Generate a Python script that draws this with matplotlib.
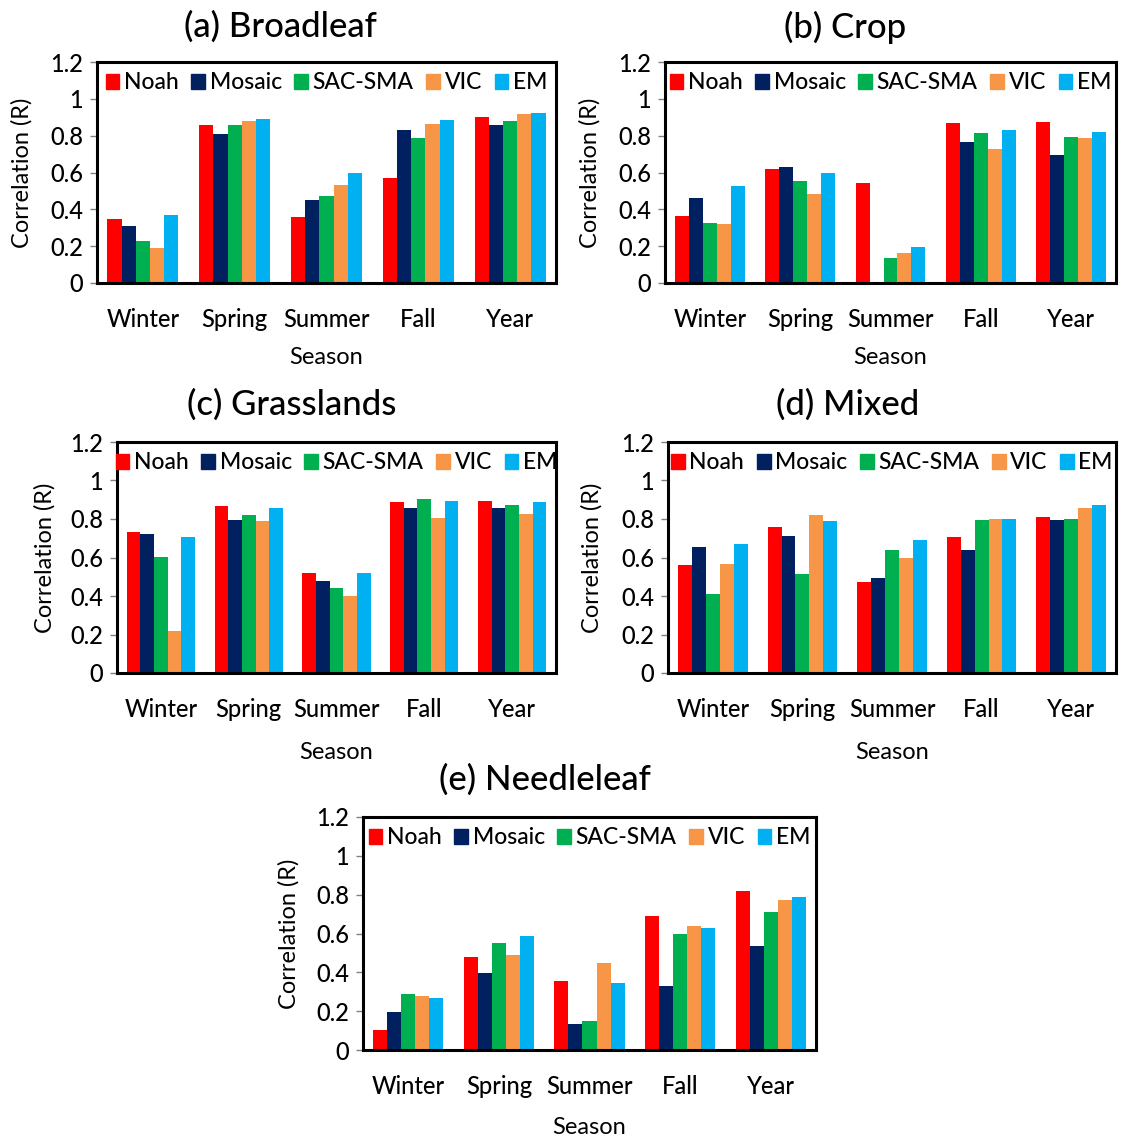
import numpy as np
import matplotlib
matplotlib.use("Agg")
import matplotlib.pyplot as plt
from matplotlib.patches import Patch

plt.rcParams['font.family'] = ['Lato', 'DejaVu Sans']
plt.rcParams['font.weight'] = 'medium'

SEASONS = ["Winter", "Spring", "Summer", "Fall", "Year"]
MODELS = ["Noah", "Mosaic", "SAC-SMA", "VIC", "EM"]
COLORS = ["#FF0000", "#002060", "#00B050", "#F79646", "#00B0F0"]

# correlation per model (rows) and season (columns)
BROADLEAF = [[0.35, 0.86, 0.36, 0.57, 0.90],
             [0.31, 0.81, 0.45, 0.83, 0.86],
             [0.23, 0.86, 0.475, 0.79, 0.88],
             [0.19, 0.88, 0.53, 0.865, 0.915],
             [0.37, 0.89, 0.60, 0.885, 0.925]]

CROP = [[0.365, 0.62, 0.545, 0.87, 0.875],
        [0.46, 0.63, 0.0, 0.765, 0.695],
        [0.325, 0.555, 0.135, 0.815, 0.795],
        [0.32, 0.485, 0.165, 0.725, 0.785],
        [0.525, 0.60, 0.195, 0.83, 0.82]]

GRASSLANDS = [[0.73, 0.865, 0.52, 0.888, 0.893],
              [0.72, 0.795, 0.48, 0.855, 0.855],
              [0.605, 0.82, 0.44, 0.905, 0.873],
              [0.22, 0.79, 0.40, 0.807, 0.825],
              [0.708, 0.857, 0.517, 0.894, 0.89]]

MIXED = [[0.56, 0.758, 0.475, 0.705, 0.81],
         [0.653, 0.712, 0.495, 0.638, 0.795],
         [0.41, 0.513, 0.637, 0.795, 0.80],
         [0.568, 0.82, 0.60, 0.80, 0.857],
         [0.67, 0.79, 0.69, 0.798, 0.875]]

NEEDLELEAF = [[0.105, 0.48, 0.357, 0.69, 0.82],
              [0.197, 0.395, 0.133, 0.33, 0.535],
              [0.29, 0.553, 0.148, 0.60, 0.71],
              [0.277, 0.49, 0.447, 0.64, 0.772],
              [0.268, 0.585, 0.343, 0.628, 0.79]]

YTICKS = [0, 0.2, 0.4, 0.6, 0.8, 1.0, 1.2]
YTICKLABELS = ["0", "0.2", "0.4", "0.6", "0.8", "1", "1.2"]

W, H = 1121, 1139
fig = plt.figure(figsize=(W / 100, H / 100), dpi=100)


def px_axes(left, right, top, bottom):
    return fig.add_axes([left / W, 1 - bottom / H, (right - left) / W, (bottom - top) / H])


def panel(data, title, box, title_xy, ylab_x, xlab_y):
    left, right, top, bottom = box
    ax = px_axes(left, right, top, bottom)
    x = np.arange(len(SEASONS))
    bw = 0.155
    for i, vals in enumerate(data):
        ax.bar(x + (i - 2) * bw, vals, width=bw, color=COLORS[i], linewidth=0)
    ax.set_xlim(-0.5, 4.5)
    ax.set_ylim(0, 1.2)
    ax.set_yticks(YTICKS)
    ax.set_yticklabels(YTICKLABELS)
    ax.set_xticks(x)
    ax.set_xticklabels(SEASONS)
    ax.tick_params(axis='x', length=0, pad=18, labelsize=17)
    ax.tick_params(axis='y', length=5, width=1, color='#808080', pad=5, labelsize=17)
    for s in ax.spines.values():
        s.set_linewidth(2.2)
        s.set_color('black')
    handles = [Patch(color=c, label=m) for c, m in zip(COLORS, MODELS)]
    ax.legend(handles=handles, loc='upper center', ncol=5, frameon=False,
              fontsize=16.5, handlelength=0.6, handleheight=0.6, handletextpad=0.2,
              columnspacing=0.55, borderaxespad=0.05)
    ax.set_ylabel("Correlation (R)", fontsize=17, va='center')
    ax.yaxis.set_label_coords((ylab_x - left) / (right - left), 0.5)
    ax.set_xlabel("Season", fontsize=17, va='center')
    ax.xaxis.set_label_coords(0.5, (bottom - xlab_y) / (bottom - top))
    fig.text(title_xy[0] / W, 1 - title_xy[1] / H, title, fontsize=25,
             ha='center', va='center')
    return ax


panel(BROADLEAF, "(a) Broadleaf", (97, 556, 62, 283), (280, 27), 22, 357)
panel(CROP, "(b) Crop", (665, 1116, 62, 283), (845, 27), 590, 357)
panel(GRASSLANDS, "(c) Grasslands", (117, 556, 442, 673), (292, 405), 45, 752)
panel(MIXED, "(d) Mixed", (668, 1116, 442, 673), (848, 405), 592, 752)
panel(NEEDLELEAF, "(e) Needleleaf", (363, 816, 817, 1050), (545, 780), 289, 1128)

fig.savefig("out.png", dpi=100)
